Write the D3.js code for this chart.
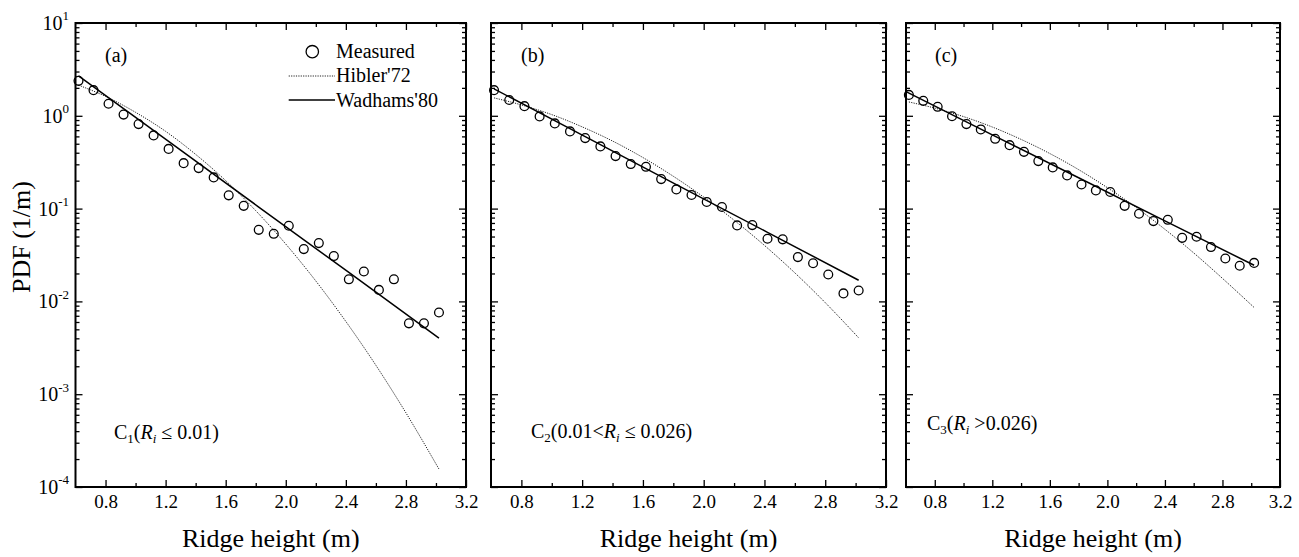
<!DOCTYPE html>
<html>
<head>
<meta charset="utf-8">
<script src="https://cdn.jsdelivr.net/npm/d3@7/dist/d3.min.js"></script>
<style>
  html, body { margin: 0; padding: 0; background: #fff; }
  svg { display: block; font-family: "Liberation Serif", "Times New Roman", serif; }
  svg text { font-family: "Liberation Serif", "Times New Roman", serif; }
</style>
</head>
<body>
<svg id="chart" width="1299" height="557"></svg>
<script>
// ---------------- data ----------------
const xTickValues = [0.8, 1.2, 1.6, 2.0, 2.4, 2.8, 3.2];
const xTickLabels = ["0.8", "1.2", "1.6", "2.0", "2.4", "2.8", "3.2"];
const xMinorTicks = [1.0, 1.4, 1.8, 2.2, 2.6, 3.0];
const yExponents = [-4, -3, -2, -1, 0, 1];

const heights = [0.62, 0.72, 0.82, 0.92, 1.02, 1.12, 1.22, 1.32, 1.42, 1.52, 1.62, 1.72, 1.82,
                 1.92, 2.02, 2.12, 2.22, 2.32, 2.42, 2.52, 2.62, 2.72, 2.82, 2.92, 3.02];

const measuredA = [2.38, 1.89, 1.35, 1.03, 0.814, 0.615, 0.44, 0.309, 0.273, 0.217, 0.139, 0.107, 0.059,
                   0.0535, 0.0653, 0.0366, 0.0425, 0.0308, 0.0173, 0.021, 0.0133, 0.0173, 0.0058, 0.0058, 0.0076];
const measuredB = [1.89, 1.48, 1.27, 0.985, 0.828, 0.679, 0.575, 0.468, 0.368, 0.302, 0.282, 0.208, 0.161,
                   0.140, 0.118, 0.104, 0.0659, 0.0664, 0.0473, 0.0466, 0.030, 0.0258, 0.0195, 0.0122, 0.0131];
const measuredC = [1.68, 1.45, 1.25, 0.99, 0.814, 0.713, 0.565, 0.483, 0.409, 0.325, 0.278, 0.228, 0.182,
                   0.157, 0.151, 0.107, 0.088, 0.0733, 0.0757, 0.0484, 0.0497, 0.0385, 0.029, 0.0242, 0.026];

const hiblerH = [0.62, 0.8, 1.0, 1.2, 1.4, 1.6, 1.8, 2.0, 2.2, 2.4, 2.6, 2.8, 3.02];
const hiblerA = [2.14, 1.62, 1.09, 0.68, 0.384, 0.20, 0.095, 0.0415, 0.0166, 0.00608, 0.00205, 0.00063, 0.000156];
const hiblerB = [1.56, 1.31, 1.03, 0.76, 0.535, 0.355, 0.223, 0.133, 0.075, 0.0401, 0.0203, 0.0097, 0.00405];
const hiblerC = [1.41, 1.21, 0.98, 0.757, 0.557, 0.392, 0.263, 0.168, 0.103, 0.0598, 0.0333, 0.0177, 0.0086];

const wadhamsHA = [0.62, 1.22, 1.82, 2.42, 3.02];
const wadhamsA = [2.70, 0.530, 0.104, 0.0205, 0.00402];
const wadhamsHB = [0.62, 1.22, 1.82, 2.42, 3.02];
const wadhamsB = [1.95, 0.596, 0.1815, 0.0555, 0.0169];
const wadhamsHC = [0.60, 1.20, 1.80, 2.40, 3.02];
const wadhamsC = [1.82, 0.624, 0.215, 0.0738, 0.0245];

const panelLabels = ["(a)", "(b)", "(c)"];
const legendLabels = ["Measured", "Hibler'72", "Wadhams'80"];
const xTitle = "Ridge height (m)";
const yTitle = "PDF (1/m)";

// ---------------- layout ----------------
const FONT = "Liberation Serif, Times New Roman, serif";
const svg = d3.select("#chart");
const plotTop = 23, plotBottom = 487;
const panels = [
  { left: 75.5, right: 466, meas: measuredA, hib: hiblerA, wadH: wadhamsHA, wad: wadhamsA,
    cond: { sub: "1", rest: [["(", false], ["R", true]], tail: " ≤ 0.01)" }, condX: 114, condY: 439, labelX: 105, yLabels: true },
  { left: 491, right: 886, meas: measuredB, hib: hiblerB, wadH: wadhamsHB, wad: wadhamsB,
    cond: { sub: "2", rest: [["(0.01<", false], ["R", true]], tail: " ≤ 0.026)" }, condX: 531, condY: 438, labelX: 521, yLabels: false },
  { left: 906, right: 1280, meas: measuredC, hib: hiblerC, wadH: wadhamsHC, wad: wadhamsC,
    cond: { sub: "3", rest: [["(", false], ["R", true]], tail: " >0.026)" }, condX: 927, condY: 430, labelX: 935, yLabels: false }
];

const y = d3.scaleLog().domain([1e-4, 10]).range([plotBottom, plotTop]);
const yMajor = yExponents.map(e => Math.pow(10, e));
const yMinor = [];
yExponents.slice(0, -1).forEach(e => { for (let k = 2; k <= 9; k++) yMinor.push(k * Math.pow(10, e)); });

panels.forEach((p, i) => {
  const x = d3.scaleLinear().domain([0.6, 3.2]).range([p.left, p.right]);
  const g = svg.append("g");

  const gb = g.append("g").attr("transform", `translate(0,${plotBottom})`)
    .call(d3.axisBottom(x).tickValues(xTickValues).tickSize(-7).tickSizeOuter(0).tickPadding(8)
      .tickFormat((d, j) => xTickLabels[j]));
  gb.attr("font-family", FONT).attr("font-size", 19);
  gb.selectAll("text").attr("font-size", 19).attr("fill", "#000");
  g.append("g").attr("transform", `translate(0,${plotBottom})`)
    .call(d3.axisBottom(x).tickValues(xMinorTicks).tickSize(-4).tickSizeOuter(0).tickFormat(""));
  g.append("g").attr("transform", `translate(0,${plotTop})`)
    .call(d3.axisTop(x).tickValues(xTickValues).tickSize(-7).tickSizeOuter(0).tickFormat(""));
  g.append("g").attr("transform", `translate(0,${plotTop})`)
    .call(d3.axisTop(x).tickValues(xMinorTicks).tickSize(-4).tickSizeOuter(0).tickFormat(""));

  const gl = g.append("g").attr("transform", `translate(${p.left},0)`)
    .call(d3.axisLeft(y).tickValues(yMajor).tickSize(-7).tickSizeOuter(0).tickPadding(6.5)
      .tickFormat(d => p.yLabels ? "x" : ""));
  gl.attr("font-family", FONT).attr("font-size", 20);
  if (p.yLabels) {
    gl.selectAll(".tick text").text(null).attr("font-size", 20).attr("fill", "#000")
      .each(function(d) {
        const t = d3.select(this);
        t.append("tspan").text("10");
        t.append("tspan").attr("font-size", 13).attr("dy", -9.5).text(String(Math.round(Math.log10(d))));
      });
  }
  g.append("g").attr("transform", `translate(${p.left},0)`)
    .call(d3.axisLeft(y).tickValues(yMinor).tickSize(-4).tickSizeOuter(0).tickFormat(""));
  g.append("g").attr("transform", `translate(${p.right},0)`)
    .call(d3.axisRight(y).tickValues(yMajor).tickSize(-7).tickSizeOuter(0).tickFormat(""));
  g.append("g").attr("transform", `translate(${p.right},0)`)
    .call(d3.axisRight(y).tickValues(yMinor).tickSize(-4).tickSizeOuter(0).tickFormat(""));

  g.selectAll(".domain").remove();
  g.selectAll(".tick line").attr("stroke", "#000").attr("stroke-width", 1.3);

  g.append("rect").attr("x", p.left).attr("y", plotTop).attr("width", p.right - p.left).attr("height", plotBottom - plotTop)
    .attr("fill", "none").attr("stroke", "#000").attr("stroke-width", 2);

  const hibPts = hiblerH.map((h, j) => [h, p.hib[j]]);
  g.append("path").datum(hibPts)
    .attr("d", d3.line().x(d => x(d[0])).y(d => y(d[1])).curve(d3.curveMonotoneX))
    .attr("fill", "none").attr("stroke", "#222").attr("stroke-width", 1).attr("stroke-dasharray", "1.2,1.2");

  const wadPts = p.wadH.map((h, j) => [h, p.wad[j]]);
  g.append("path").datum(wadPts)
    .attr("d", d3.line().x(d => x(d[0])).y(d => y(d[1])))
    .attr("fill", "none").attr("stroke", "#000").attr("stroke-width", 1.5);

  g.selectAll("circle.m").data(heights.map((h, j) => [h, p.meas[j]])).enter()
    .append("circle").attr("class", "m")
    .attr("cx", d => x(d[0])).attr("cy", d => y(d[1])).attr("r", 4.4)
    .attr("fill", "none").attr("stroke", "#000").attr("stroke-width", 1.3);

  g.append("text").attr("x", p.labelX).attr("y", 62).attr("font-size", 20).text(panelLabels[i]);

  const ct = g.append("text").attr("x", p.condX).attr("y", p.condY).attr("font-size", 20);
  ct.append("tspan").text("C");
  ct.append("tspan").attr("font-size", 13).attr("dy", 4).text(p.cond.sub);
  p.cond.rest.forEach((r, k) => {
    const ts = ct.append("tspan").text(r[0]);
    if (k === 0) ts.attr("dy", -4);
    if (r[1]) ts.attr("font-style", "italic");
  });
  ct.append("tspan").attr("font-size", 13).attr("font-style", "italic").attr("dy", 4).text("i");
  ct.append("tspan").attr("dy", -4).text(p.cond.tail);

  g.append("text").attr("x", (p.left + p.right) / 2).attr("y", 547).attr("text-anchor", "middle")
    .attr("font-size", 26).text(xTitle);
});

svg.append("text").attr("transform", "translate(29.5,237) rotate(-90)").attr("text-anchor", "middle")
  .attr("font-size", 26).text(yTitle);

const lg = svg.append("g");
lg.append("circle").attr("cx", 312.3).attr("cy", 51.7).attr("r", 6.2)
  .attr("fill", "none").attr("stroke", "#000").attr("stroke-width", 1.3);
lg.append("text").attr("x", 336).attr("y", 57.5).attr("font-size", 20).text(legendLabels[0]);
lg.append("line").attr("x1", 288.7).attr("x2", 335).attr("y1", 76).attr("y2", 76)
  .attr("stroke", "#222").attr("stroke-width", 1).attr("stroke-dasharray", "1.2,1.2");
lg.append("text").attr("x", 336).attr("y", 82).attr("font-size", 20).text(legendLabels[1]);
lg.append("line").attr("x1", 288.7).attr("x2", 335).attr("y1", 100).attr("y2", 100)
  .attr("stroke", "#000").attr("stroke-width", 1.5);
lg.append("text").attr("x", 336).attr("y", 106.5).attr("font-size", 20).text(legendLabels[2]);
</script>
</body>
</html>
